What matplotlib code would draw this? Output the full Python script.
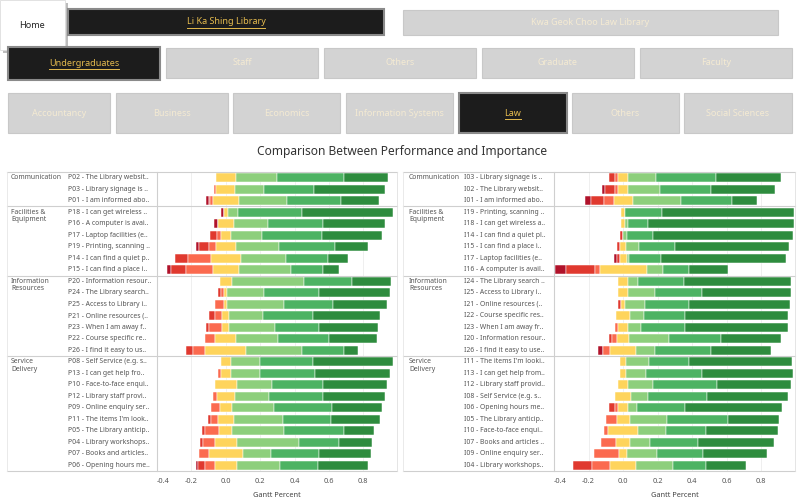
import matplotlib
matplotlib.use("Agg")
import matplotlib.pyplot as plt
from matplotlib.patches import Rectangle
from matplotlib.transforms import blended_transform_factory
import numpy as np

plt.rcParams['font.family'] = ['Noto Sans', 'DejaVu Sans']

# ---------------- data ----------------
groups = ["Communication", "Facilities &\nEquipment", "Information\nResources", "Service\nDelivery"]
group_sizes = [3, 6, 7, 10]

perf_items = ["P02 - The Library websit..", "P03 - Library signage is ..", "P01 - I am informed abo..",
              "P18 - I can get wireless ..", "P16 - A computer is avai..", "P17 - Laptop facilities (e..",
              "P19 - Printing, scanning ..", "P14 - I can find a quiet p..", "P15 - I can find a place i..",
              "P20 - Information resour..", "P24 - The Library search..", "P25 - Access to Library i..",
              "P21 - Online resources (..", "P23 - When I am away f..", "P22 - Course specific re..",
              "P26 - I find it easy to us..", "P08 - Self Service (e.g. s..", "P13 - I can get help fro..",
              "P10 - Face-to-face enqui..", "P12 - Library staff provi..", "P09 - Online enquiry ser..",
              "P11 - The items I'm look..", "P05 - The Library anticip..", "P04 - Library workshops..",
              "P07 - Books and articles..", "P06 - Opening hours me.."]
imp_items = ["I03 - Library signage is ..", "I02 - The Library websit..", "I01 - I am informed abo..",
             "I19 - Printing, scanning ..", "I18 - I can get wireless a..", "I14 - I can find a quiet pl..",
             "I15 - I can find a place i..", "I17 - Laptop facilities (e..", "I16 - A computer is avail..",
             "I24 - The Library search ..", "I25 - Access to Library i..", "I21 - Online resources (..",
             "I22 - Course specific res..", "I23 - When I am away fr..", "I20 - Information resour..",
             "I26 - I find it easy to use..", "I11 - The items I'm looki..", "I13 - I can get help from..",
             "I12 - Library staff provid..", "I08 - Self Service (e.g. s..", "I06 - Opening hours me..",
             "I05 - The Library anticip..", "I10 - Face-to-face enqui..", "I07 - Books and articles ..",
             "I09 - Online enquiry ser..", "I04 - Library workshops.."]

# response shares per level (strongly negative ... strongly positive)
perf_l1 = [0, 0, .013, .017, .023, 0, .019, 0, .019, 0, 0, 0, 0, 0, 0, 0, 0, 0, 0, 0, 0, 0, 0, 0, 0, .015]
perf_l2 = [0, 0, .010, 0, 0, .038, .060, .075, .092, 0, .019, 0, .039, .017, 0, .040, 0, 0, 0, 0, 0, .019, .017, .017, 0, .039]
perf_l3 = [0, .015, .015, 0, 0, .023, .037, .133, .154, 0, .017, .056, .040, .077, .062, .069, 0, .019, 0, .021, .052, .039, .083, .068, .056, .058]
perf_l4 = [.114, .112, .149, .021, .096, .056, .119, .172, .150, .069, .019, .019, .040, .040, .121, .239, .058, .058, .125, .104, .071, .096, .077, .129, .197, .127]
perf_l5 = [.243, .164, .279, .058, .199, .181, .249, .266, .303, .422, .212, .329, .198, .268, .241, .326, .173, .168, .208, .202, .245, .283, .298, .362, .164, .251]
perf_l6 = [.389, .291, .316, .376, .318, .349, .326, .245, .189, .277, .322, .287, .291, .254, .299, .241, .308, .322, .293, .309, .339, .283, .353, .235, .279, .223]
perf_l7 = [.256, .418, .222, .528, .362, .350, .193, .112, .092, .230, .412, .310, .389, .341, .279, .083, .461, .435, .372, .362, .291, .283, .173, .189, .304, .287]

imp_l1 = [0, .015, .035, 0, 0, 0, 0, .019, .062, 0, 0, 0, 0, 0, 0, .027, 0, 0, 0, 0, 0, 0, 0, 0, 0, 0]
imp_l2 = [.035, .058, .075, 0, 0, .017, .019, .015, .169, 0, 0, .021, 0, 0, .021, 0, 0, 0, 0, 0, .037, 0, 0, 0, 0, .108]
imp_l3 = [.019, .019, .056, 0, 0, 0, 0, 0, .025, 0, 0, 0, 0, .021, .027, .042, 0, 0, 0, 0, .017, .062, .023, .085, .146, .108]
imp_l4 = [.056, .056, .110, .019, .023, 0, .037, .040, .272, .058, .058, .021, .081, .056, .071, .154, .037, .037, .062, .096, .056, .075, .170, .083, .050, .149]
imp_l5 = [.162, .187, .279, 0, .015, .021, .075, .017, .098, .058, .156, .118, .079, .075, .231, .106, .133, .114, .145, .094, .054, .218, .165, .114, .170, .214]
imp_l6 = [.347, .297, .295, .214, .120, .152, .210, .183, .149, .266, .272, .252, .241, .253, .303, .329, .229, .326, .366, .347, .276, .355, .228, .277, .268, .191]
imp_l7 = [.380, .368, .148, .767, .842, .809, .657, .721, .225, .617, .513, .586, .597, .597, .347, .343, .601, .524, .430, .466, .561, .293, .420, .441, .368, .233]

level_colors = ["#b0122a", "#e0392f", "#fb6a4f", "#fed45c", "#8dcf7c", "#4db363", "#2e8c3e"]
xticks = [-0.4, -0.2, 0.0, 0.2, 0.4, 0.6, 0.8]

# ---------------- figure ----------------
W, H = 800, 503
fig = plt.figure(figsize=(W / 100, H / 100), dpi=100)
fig.patch.set_facecolor("white")


def fx(px):
    return px / W


def fy(py):
    return 1 - py / H


def rect(x0, y0, x1, y1, **kw):
    fig.patches.append(Rectangle((fx(x0), fy(y1)), fx(x1) - fx(x0), (y1 - y0) / H,
                                 transform=fig.transFigure, **kw))


renderer = fig.canvas.get_renderer()


def button(x0, y0, x1, y1, label, active=False, fs=6.5):
    if active:
        rect(x0, y0, x1, y1, facecolor="#1c1c1c", edgecolor="#8a8a8a", linewidth=1.5)
        col = "#e5bb4e"
    else:
        rect(x0, y0, x1, y1, facecolor="#d3d3d3", edgecolor="#c8c8c8", linewidth=0.8)
        col = "#f4ead2"
    t = fig.text(fx((x0 + x1) / 2), fy((y0 + y1) / 2), label, ha="center", va="center",
                 fontsize=fs, color=col, fontweight="bold")
    if active:
        bb = t.get_window_extent(renderer)
        yb = bb.y0 - 1
        fig.lines.append(plt.Line2D([bb.x0 / W, bb.x1 / W], [yb / H, yb / H], color=col,
                                    linewidth=0.7, transform=fig.transFigure))


# Home box with shadow
rect(3, 3, 68, 53, facecolor="#bdbdbd", edgecolor="none")
rect(0, 0, 65, 50, facecolor="white", edgecolor="#dddddd", linewidth=0.6)
fig.text(fx(32), fy(25), "Home", ha="center", va="center", fontsize=6.5, color="#222222")

button(68, 9, 384, 35, "Li Ka Shing Library", active=True)
button(403, 10, 778, 35, "Kwa Geok Choo Law Library")
button(8, 47, 160, 80, "Undergraduates", active=True)
for (a, b, lab) in [(166, 318, "Staff"), (324, 476, "Others"), (482, 634, "Graduate"), (640, 792, "Faculty")]:
    button(a, 48, b, 78, lab)
for (a, b, lab, act) in [(8, 110, "Accountancy", False), (116, 228, "Business", False),
                         (233, 340, "Economics", False), (346, 453, "Information Systems", False),
                         (459, 567, "Law", True), (572, 679, "Others", False),
                         (684, 792, "Social Sciences", False)]:
    button(a, 93, b, 133, lab, active=act)

fig.text(fx(402), fy(151), "Comparison Between Performance and Importance", ha="center", va="center",
         fontsize=8.6, fontweight="bold", color="#333333")


def panel(px0, pxlab, pxcat, ppl, ppr, items, levels):
    top, bot = 172, 471
    ax = fig.add_axes([fx(ppl), fy(bot), fx(ppr) - fx(ppl), (bot - top) / H])
    n = len(items)
    ax.set_xlim(-0.392, 0.996)
    ax.set_ylim(n - 0.5, -0.5)
    ax.set_facecolor("white")
    for t in xticks:
        ax.axvline(t, color="#ececec", linewidth=0.6, zorder=0)
    vals = np.array(levels, dtype=float)  # 7 x n
    neg = vals[0] + vals[1] + vals[2] + vals[3] / 2.0
    start = -neg
    y = np.arange(n)
    for k in range(7):
        ax.barh(y, vals[k], left=start, height=0.78, color=level_colors[k],
                edgecolor="white", linewidth=0.35, zorder=2)
        start = start + vals[k]
    for s in ax.spines.values():
        s.set_visible(False)
    ax.set_yticks([])
    ax.set_xticks(xticks)
    ax.set_xticklabels(["%.1f" % t for t in xticks])
    ax.tick_params(axis="x", length=0, labelsize=5.3, labelcolor="#555555", pad=5)
    ax.get_xticklabels()[0].set_horizontalalignment("left")
    ax.set_xlabel("Gantt Percent", fontsize=5.3, color="#444444", labelpad=5)

    tr = blended_transform_factory(fig.transFigure, ax.transData)
    for i, lab in enumerate(items):
        ax.text(fx(pxlab), i, lab, transform=tr, ha="left", va="center", fontsize=4.9,
                color="#555555", clip_on=False)
    # group labels and separators
    line_kw = dict(transform=tr, color="#cfcfcf", linewidth=0.8, clip_on=False)
    start_row = 0
    ax.plot([fx(px0), fx(ppr)], [-0.5, -0.5], **line_kw)
    for g, size in zip(groups, group_sizes):
        ax.text(fx(pxcat), start_row - 0.3, g, transform=tr, ha="left", va="top", fontsize=4.9,
                color="#555555", clip_on=False, linespacing=1.1)
        start_row += size
        ax.plot([fx(px0), fx(ppr)], [start_row - 0.5, start_row - 0.5], **line_kw)
    # vertical frame lines
    fig.lines.append(plt.Line2D([fx(ppl), fx(ppl)], [fy(top), fy(bot)], color="#cfcfcf",
                                linewidth=0.8, transform=fig.transFigure))
    fig.lines.append(plt.Line2D([fx(ppr), fx(ppr)], [fy(top), fy(bot)], color="#e0e0e0",
                                linewidth=0.6, transform=fig.transFigure))
    fig.lines.append(plt.Line2D([fx(px0), fx(px0)], [fy(top), fy(bot)], color="#e6e6e6",
                                linewidth=0.6, transform=fig.transFigure))
    return ax


panel(7, 68, 11, 157, 397, perf_items,
      [perf_l1, perf_l2, perf_l3, perf_l4, perf_l5, perf_l6, perf_l7])
panel(403, 464, 409, 554, 795, imp_items,
      [imp_l1, imp_l2, imp_l3, imp_l4, imp_l5, imp_l6, imp_l7])

fig.savefig("out.png", dpi=100, facecolor="white")
